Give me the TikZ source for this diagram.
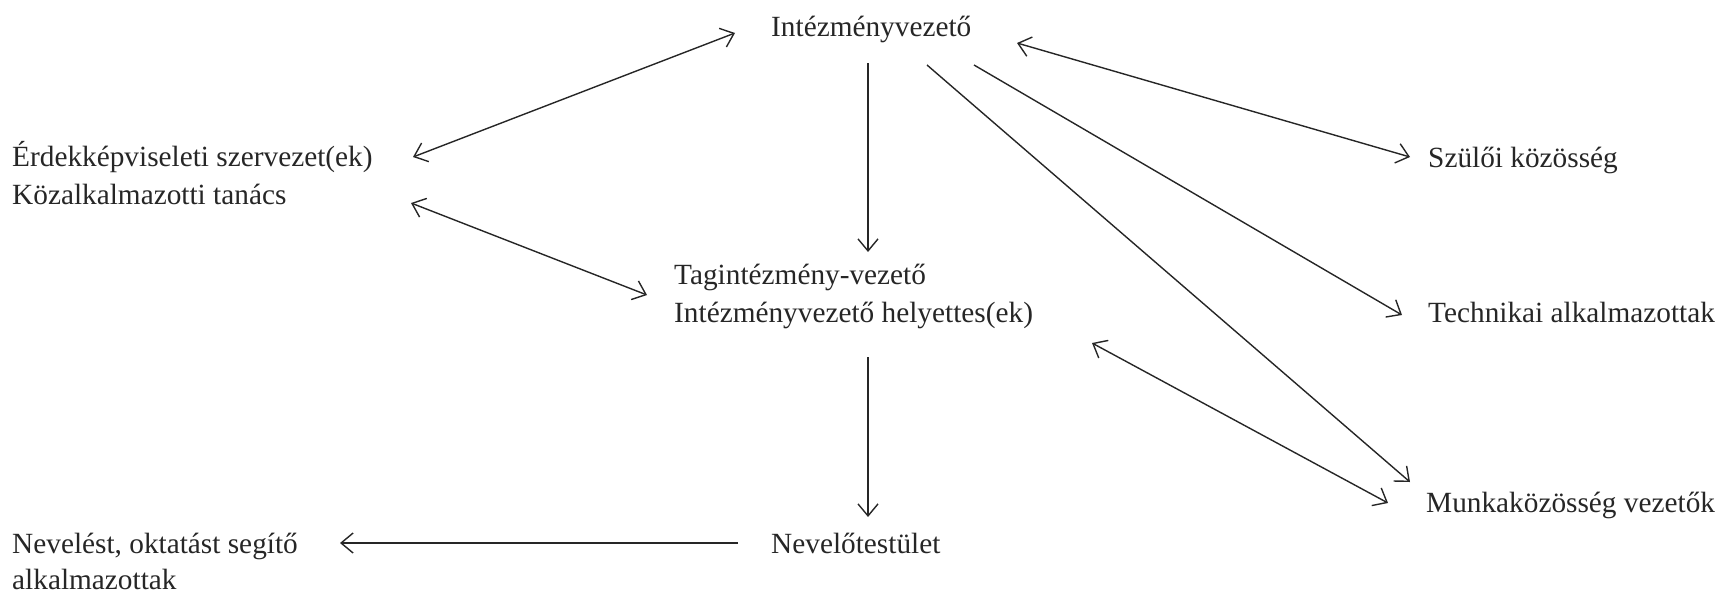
\documentclass[tikz,border=0pt]{standalone}
\usepackage{fontspec}
\setmainfont{Liberation Serif}
\usetikzlibrary{arrows.meta}
\begin{document}
\begin{tikzpicture}[x=1pt,y=-1pt,
  lbl/.style={anchor=base west,inner sep=0pt,text=black!85,font=\fontsize{29.3}{37}\selectfont},
  conn/.style={line width=1.4pt,draw=black!85},
  tip/.style={-{Straight Barb[length=12pt,width=20pt,line width=1.4pt]}},
  tips/.style={{Straight Barb[length=12pt,width=20pt,line width=1.4pt]}-{Straight Barb[length=12pt,width=20pt,line width=1.4pt]}}]
\useasboundingbox (0,0) rectangle (1731,595);
% labels
\node[lbl] (iv) at (771,36) {Intézményvezető};
\node[lbl] (erd) at (12,166) {Érdekképviseleti szervezet(ek)};
\node[lbl] (koz) at (12,204) {Közalkalmazotti tanács};
\node[lbl] (szu) at (1428,167) {Szülői közösség};
\node[lbl] (tag) at (674,284) {Tagintézmény-vezető};
\node[lbl] (ivh) at (674,322) {Intézményvezető helyettes(ek)};
\node[lbl] (tech) at (1428,322) {Technikai alkalmazottak};
\node[lbl] (munk) at (1426,512) {Munkaközösség vezetők};
\node[lbl] (nevt) at (771,553) {Nevelőtestület};
\node[lbl] (nos) at (12,553) {Nevelést, oktatást segítő};
\node[lbl] (alk) at (12,589) {alkalmazottak};
% connector end points
\coordinate (e1) at (413,157); \coordinate (i1) at (735,33);
\coordinate (k1) at (411,203); \coordinate (t1) at (647,295);
\coordinate (i2) at (868,63);  \coordinate (t2) at (868,252);
\coordinate (i3) at (1017,43); \coordinate (s1) at (1410,157);
\coordinate (i4) at (974,65);  \coordinate (te1) at (1402,315);
\coordinate (i5) at (927,65);  \coordinate (m1) at (1410,482);
\coordinate (t3) at (1092,343); \coordinate (m2) at (1388,503);
\coordinate (t4) at (868,357); \coordinate (n1) at (868,517);
\coordinate (n2) at (738,543); \coordinate (o1) at (340,543);
% connectors
\draw[conn,tips] (e1) -- (i1);
\draw[conn,tips] (k1) -- (t1);
\draw[conn,tip] (i2) -- (t2);
\draw[conn,tips] (i3) -- (s1);
\draw[conn,tip] (i4) -- (te1);
\draw[conn,tip] (i5) -- (m1);
\draw[conn,tips] (t3) -- (m2);
\draw[conn,tip] (t4) -- (n1);
\draw[conn,tip] (n2) -- (o1);
\end{tikzpicture}
\end{document}
